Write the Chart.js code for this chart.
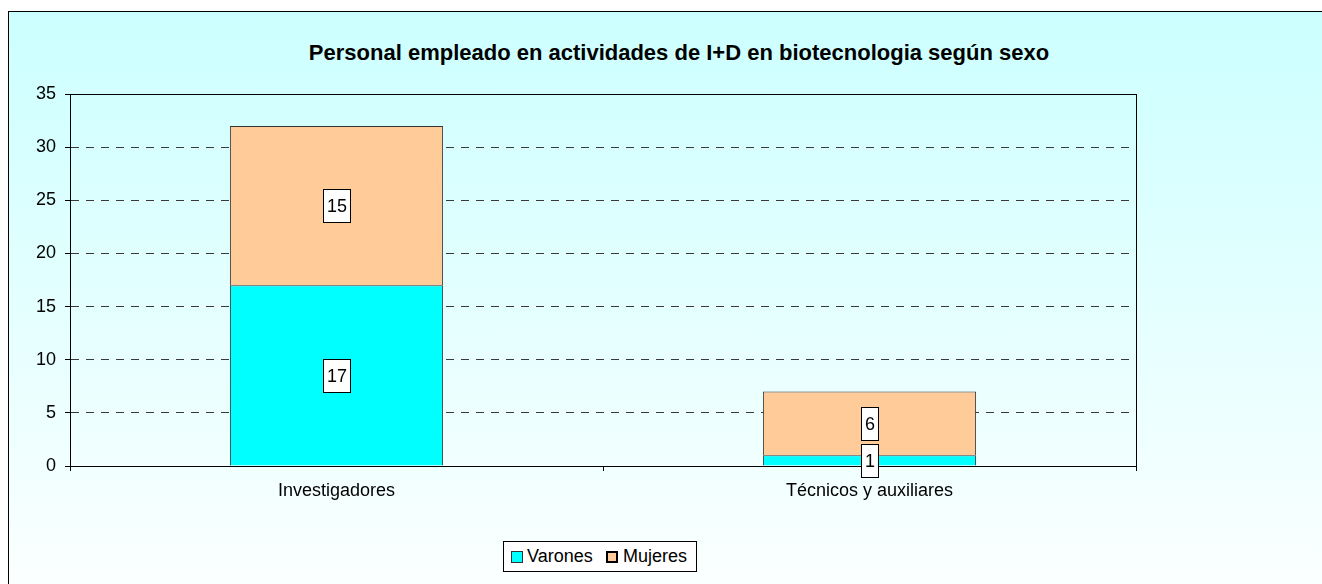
<!DOCTYPE html>
<html>
<head>
<meta charset="utf-8">
<script src="https://cdn.jsdelivr.net/npm/chart.js@4.4.0/dist/chart.umd.min.js"></script>
<style>
  html, body { margin: 0; padding: 0; background: #fff; width: 1322px; height: 584px; overflow: hidden; }
  .frame { position: absolute; left: 8px; top: 11px; width: 1400px; height: 640px; border: 1px solid #000;
           background: linear-gradient(to bottom, #ccffff 0px, #ffffff 620px); }
  #chart { position: absolute; left: 0; top: 0; }
  .title { position: absolute; left: 179px; width: 1000px; top: 40px; text-align: center; line-height: 26px;
           font: bold 22px "Liberation Sans", Arial, sans-serif; color: #000; }
  .legend { position: absolute; left: 503px; top: 541px; width: 192px; height: 29px; border: 1px solid #000;
            background: #fff; font: 18px "Liberation Sans", Arial, sans-serif; color: #000; }
  .legend span.item { position: absolute; top: 4px; white-space: nowrap; }
  .legend i { position: absolute; top: 9px; box-sizing: border-box; width: 12px; height: 12px; }
</style>
</head>
<body>
<div class="frame"></div>
<div class="title">Personal empleado en actividades de I+D en biotecnologia según sexo</div>
<canvas id="chart" width="1322" height="584"></canvas>
<div class="legend" id="legend"></div>
<script>
const categories = ['Investigadores', 'Técnicos y auxiliares'];
const varones = [17, 1];
const mujeres = [15, 6];
const yTicks = [0, 5, 10, 15, 20, 25, 30, 35];

const seriesNames = ['Varones', 'Mujeres'];
const seriesColors = ['#00ffff', '#ffcc99'];

const font = { family: '"Liberation Sans", Arial, sans-serif', size: 18 };

// plot area frame, solid, drawn over the dashed grid
const frameBox = {
  id: 'frameBox',
  beforeDatasetsDraw(chart) {
    const a = chart.chartArea, ctx = chart.ctx;
    ctx.save();
    ctx.setLineDash([]);
    ctx.strokeStyle = '#000';
    ctx.lineWidth = 1;
    ctx.strokeRect(Math.round(a.left) + 0.5, Math.round(a.top) + 0.5, Math.round(a.right - a.left), Math.round(a.bottom - a.top));
    ctx.restore();
  }
};

// value boxes in the middle of every segment
const valueBoxes = {
  id: 'valueBoxes',
  afterDatasetsDraw(chart) {
    const ctx = chart.ctx;
    ctx.save();
    ctx.font = font.size + 'px ' + font.family;
    ctx.textAlign = 'center';
    ctx.textBaseline = 'middle';
    chart.data.datasets.forEach((ds, di) => {
      chart.getDatasetMeta(di).data.forEach((bar, i) => {
        const p = bar.getProps(['x', 'y', 'base'], true);
        const cy = (p.y + p.base) / 2;
        const txt = String(ds.data[i]);
        const w = Math.round(ctx.measureText(txt).width) + 7;
        const h = 33;
        const x0 = Math.round(p.x - w / 2), y0 = Math.round(cy - h / 2);
        ctx.fillStyle = '#fff';
        ctx.fillRect(x0, y0, w, h);
        ctx.strokeStyle = '#000';
        ctx.lineWidth = 1;
        ctx.strokeRect(x0 + 0.5, y0 + 0.5, w, h);
        ctx.fillStyle = '#000';
        ctx.fillText(txt, p.x + 0.5, cy + 1.5);
      });
    });
    ctx.restore();
  }
};

const chart = new Chart(document.getElementById('chart'), {
  type: 'bar',
  data: {
    labels: categories,
    datasets: [
      { label: seriesNames[0], data: varones, backgroundColor: seriesColors[0], borderColor: '#333', borderWidth: 1,
        barPercentage: 0.4, categoryPercentage: 1 },
      { label: seriesNames[1], data: mujeres, backgroundColor: seriesColors[1], borderColor: '#333', borderWidth: 1,
        barPercentage: 0.4, categoryPercentage: 1 }
    ]
  },
  options: {
    responsive: false,
    animation: false,
    layout: { padding: { left: 20, top: 94, right: 186, bottom: 73 } },
    plugins: { legend: { display: false }, title: { display: false }, tooltip: { enabled: false } },
    scales: {
      x: {
        stacked: true,
        afterFit: s => { s.height = 45; },
        grid: { offset: true, drawOnChartArea: false, drawTicks: true, tickLength: 5, tickColor: '#000' },
        border: { display: true, color: '#000', width: 1 },
        ticks: { color: '#000', font: font, padding: 9, maxRotation: 0 }
      },
      y: {
        stacked: true,
        min: 0,
        max: 35,
        afterFit: s => { s.width = 50; },
        afterBuildTicks: s => { s.ticks = yTicks.map(v => ({ value: v })); },
        grid: { color: '#3a3a3a', tickLength: 5, tickColor: '#000', tickBorderDash: [] },
        border: { display: true, color: '#000', width: 1, dash: [8, 7] },
        ticks: { color: '#000', font: font, padding: 9 }
      }
    }
  },
  plugins: [frameBox, valueBoxes]
});

// legend from the chart's datasets
const lg = document.getElementById('legend');
const itemX = [[7, 23], [102, 119]];
chart.data.datasets.forEach((ds, i) => {
  const sq = document.createElement('i');
  sq.style.left = itemX[i][0] + 'px';
  sq.style.background = ds.backgroundColor;
  sq.style.border = i === 0 ? '1px solid #333' : '2px solid #000';
  lg.appendChild(sq);
  const t = document.createElement('span');
  t.className = 'item';
  t.style.left = itemX[i][1] + 'px';
  t.textContent = ds.label;
  lg.appendChild(t);
});
</script>
</body>
</html>
